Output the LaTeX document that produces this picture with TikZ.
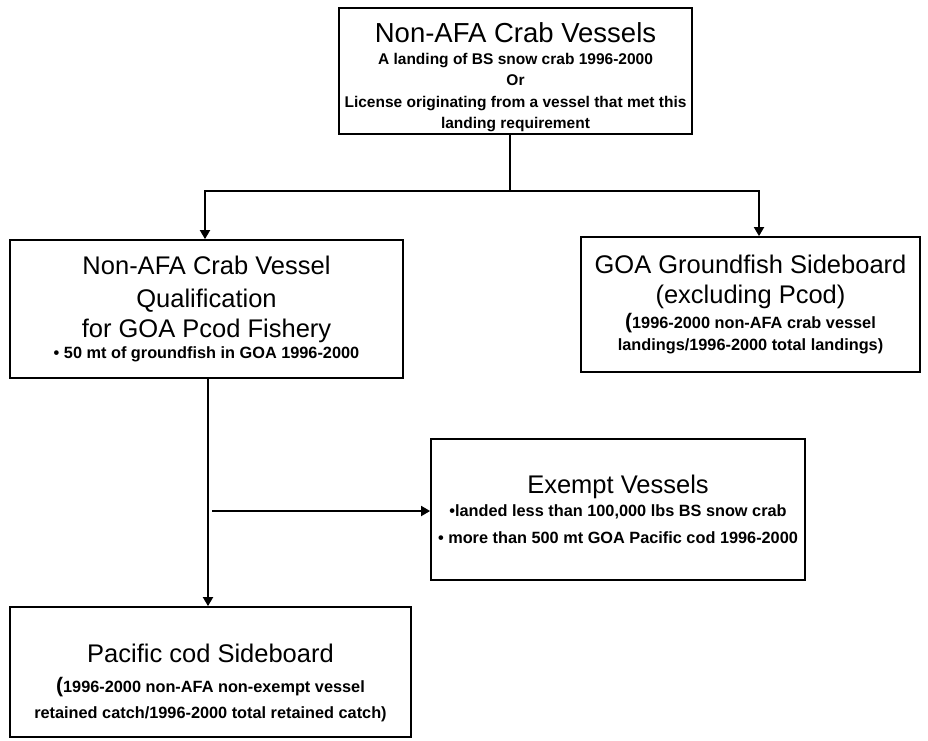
\documentclass[tikz,border=0pt]{standalone}
\usepackage{fontspec}
\setmainfont{Liberation Sans}
\usetikzlibrary{arrows.meta}

\newcommand{\headline}{\fontsize{25.5}{21.5}\selectfont\mdseries}
\newcommand{\bigparen}{\fontsize{21}{21.5}\selectfont}
\newcommand{\boxfont}{\fontsize{16.3}{21.5}\selectfont\bfseries\lineskiplimit-100pt\relax}
\newcommand{\topfont}{\fontsize{15.5}{21.5}\selectfont\bfseries\lineskiplimit-100pt\relax}

\tikzset{
	box/.style={draw, align=center, inner sep=0pt, font=\boxfont},
}

\begin{document}
\begin{tikzpicture}
	[x=1pt, y=-1pt, line width=1.8pt, >={Triangle[length=9pt,width=10pt]}]
	\path [fill=white, use as bounding box] (0,0) rectangle (928,740);
	\node (crab) [box, font=\topfont, minimum width=353pt, minimum height=126pt] at (515.5,71)
		{\rule{0pt}{33pt}{\headline\fontsize{27.5}{21.5}\selectfont Non-AFA Crab Vessels} \\ A landing of BS snow crab 1996-2000 \\ Or \\ License originating from a vessel that met this \\ landing requirement};
	\node (qual) [box, minimum width=393pt, minimum height=138pt] at (206.5,309)
		{{\headline Non-AFA Crab Vessel} \\[11pt] {\headline Qualification} \\[8.5pt] {\headline for GOA Pcod Fishery} \\ • 50 mt of groundfish in GOA 1996-2000};
	\node (goa) [box, minimum width=339pt, minimum height=135pt] at (750.5,304.5)
		{{\headline GOA Groundfish Sideboard} \\[8.5pt] {\headline (excluding Pcod)} \\[3.5pt] {\bigparen(}1996-2000 non-AFA crab vessel \\ landings/1996-2000 total landings)};
	\node (exempt) [box, minimum width=374pt, minimum height=141pt] at (618,509.5)
		{{\headline Exempt Vessels} \\[1.5pt] •landed less than 100,000 lbs BS snow crab \\[5.5pt] • more than 500 mt GOA Pacific cod 1996-2000};
	\node (pcod) [box, minimum width=401pt, minimum height=130pt] at (210.5,672)
		{\rule{0pt}{40pt}{\headline Pacific cod Sideboard} \\[8.5pt] {\bigparen(}1996-2000 non-AFA non-exempt vessel \\[4.5pt] retained catch/1996-2000 total retained catch)};
	\coordinate (split) at (510,191);
	\coordinate (ldrop) at (205,191);
	\coordinate (rdrop) at (759,191);
	\coordinate (stem) at (208,0);
	\coordinate (branch) at (212,511);
	\draw (crab.south -| split) -- (split);
	\draw [->] (split) -| (ldrop |- qual.north);
	\draw [->] (split) -| (rdrop |- goa.north);
	\draw [->] (stem |- qual.south) -- (stem |- pcod.north);
	\draw [->] (branch) -- (branch -| exempt.west);
\end{tikzpicture}
\end{document}
